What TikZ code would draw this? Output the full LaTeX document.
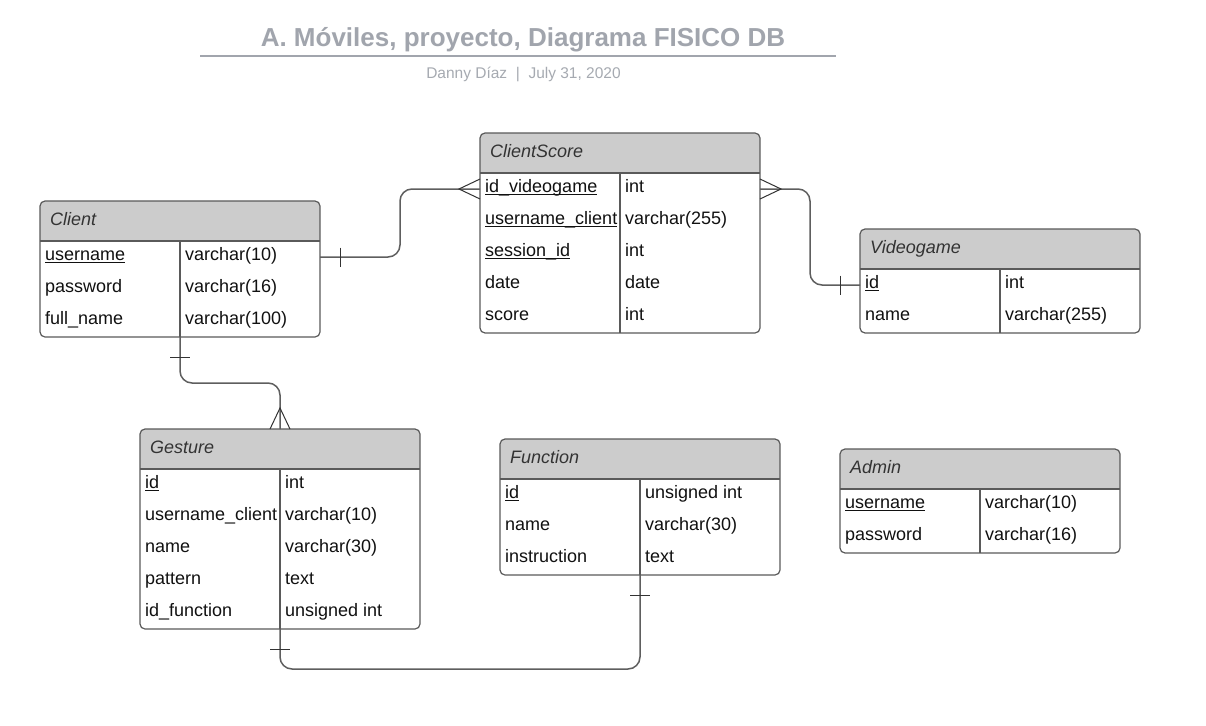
\documentclass[tikz,border=0pt]{standalone}
\usepackage{fontspec}
\setmainfont{Liberation Sans}
\usetikzlibrary{calc}
\definecolor{ttl}{HTML}{A1A5AD}
\definecolor{subc}{HTML}{A6AAB1}
\definecolor{hdrc}{HTML}{CCCCCC}
\definecolor{borderc}{HTML}{5A5A5A}
\definecolor{connc}{HTML}{5E5E5E}
\definecolor{tickc}{HTML}{333333}
\definecolor{hdrtxt}{HTML}{333333}
\definecolor{rowtxt}{HTML}{111111}
\newcommand\undl[1]{\setbox0\hbox{#1}\rlap{\rule[-2.6pt]{\wd0}{1.1pt}}\box0}
\tikzset{
  tblbox/.style={rectangle, minimum width=280pt, inner sep=0pt, outer sep=0pt, fill=white},
  rowbox/.style={rectangle, minimum width=280pt, minimum height=32pt, inner sep=0pt, outer sep=0pt},
  celltext/.style={anchor=base west, inner sep=0pt, text=rowtxt, font=\fontsize{18}{20}\selectfont},
  hdrtext/.style={anchor=base west, inner sep=0pt, text=hdrtxt, font=\fontsize{18}{20}\selectfont\itshape},
  tblline/.style={draw=borderc, line width=1.2pt},
  conn/.style={draw=connc, line width=1.5pt, rounded corners=12pt},
  tickline/.style={draw=tickc, line width=1pt},
}
% name, x, y (px from top), height, title
\newcommand\ertable[5]{%
  \node[tblbox, minimum height=#4pt, anchor=north west] (#1) at (#2,-#3) {};
  \begin{scope}
    \clip[rounded corners=5pt] (#1.north west) rectangle (#1.south east);
    \fill[hdrc] (#1.north west) rectangle ([yshift=-40pt]#1.north east);
  \end{scope}
  \draw[tblline] ([yshift=-40pt]#1.north west) -- ([yshift=-40pt]#1.north east);
  \draw[tblline] ([xshift=140pt,yshift=-40pt]#1.north west) -- ([xshift=140pt]#1.south west);
  \draw[tblline, rounded corners=5pt] (#1.north west) rectangle (#1.south east);
  \node[hdrtext] (#1-title) at ([xshift=10pt,yshift=-24pt]#1.north west) {#5};
}
% table, index, key, type
\newcommand\errow[4]{%
  \node[rowbox, anchor=north west] (#1-r#2) at ([yshift={-40-32*(#2-1)}]#1.north west) {};
  \node[celltext] (#1-r#2-k) at ([xshift=5pt,yshift=-3.3pt]#1-r#2.west) {#3};
  \node[celltext] (#1-r#2-t) at ([xshift=145pt,yshift=-3.3pt]#1-r#2.west) {#4};
}
\begin{document}
\begin{tikzpicture}[x=1pt,y=1pt]
\fill[white] (0,0) rectangle (1206,-725);
\useasboundingbox (0,0) rectangle (1206,-725);

% title
\node[font=\fontsize{26}{30}\selectfont\bfseries, text=ttl, anchor=base, inner sep=0pt] (title) at (523,-47) {A. Móviles, proyecto, Diagrama FISICO DB};
\coordinate (rule-l) at (200,-56.5);
\coordinate (rule-r) at (836,-56.5);
\draw[ttl, line width=2pt] (rule-l) -- (rule-r);
\node[font=\fontsize{15.5}{18}\selectfont, text=subc, anchor=base, inner sep=0pt] (subtitle) at (523.5,-78) {Danny Díaz\ \ |\ \ July 31, 2020};

% Client
\ertable{client}{40}{201}{136}{Client}
\errow{client}{1}{\undl{username}}{varchar(10)}
\errow{client}{2}{password}{varchar(16)}
\errow{client}{3}{full\_name}{varchar(100)}

% ClientScore
\ertable{cscore}{480}{133}{200}{ClientScore}
\errow{cscore}{1}{\undl{id\_videogame}}{int}
\errow{cscore}{2}{\undl{username\_client}}{varchar(255)}
\errow{cscore}{3}{\undl{session\_id}}{int}
\errow{cscore}{4}{date}{date}
\errow{cscore}{5}{score}{int}

% Videogame
\ertable{vg}{860}{229}{104}{Videogame}
\errow{vg}{1}{\undl{id}}{int}
\errow{vg}{2}{name}{varchar(255)}

% Gesture
\ertable{gesture}{140}{429}{200}{Gesture}
\errow{gesture}{1}{\undl{id}}{int}
\errow{gesture}{2}{username\_client}{varchar(10)}
\errow{gesture}{3}{name}{varchar(30)}
\errow{gesture}{4}{pattern}{text}
\errow{gesture}{5}{id\_function}{unsigned int}

% Function
\ertable{func}{500}{439}{136}{Function}
\errow{func}{1}{\undl{id}}{unsigned int}
\errow{func}{2}{name}{varchar(30)}
\errow{func}{3}{instruction}{text}

% Admin
\ertable{admin}{840}{449}{104}{Admin}
\errow{admin}{1}{\undl{username}}{varchar(10)}
\errow{admin}{2}{password}{varchar(16)}

% Client -> ClientScore
\draw[conn] (client-r1.east) -- ++(80,0) |- (cscore-r1.west);
\draw[tickline] ([xshift=20pt,yshift=9.5pt]client-r1.east) -- ([xshift=20pt,yshift=-9.5pt]client-r1.east);
\draw[tickline] ([yshift=10pt]cscore-r1.west) -- ([xshift=-21pt]cscore-r1.west) -- ([yshift=-10pt]cscore-r1.west);

% ClientScore -> Videogame
\draw[conn] (cscore-r1.east) -- ++(50,0) |- (vg-r1.west);
\draw[tickline] ([yshift=10pt]cscore-r1.east) -- ([xshift=21pt]cscore-r1.east) -- ([yshift=-10pt]cscore-r1.east);
\draw[tickline] ([xshift=-20pt,yshift=9.5pt]vg-r1.west) -- ([xshift=-20pt,yshift=-9.5pt]vg-r1.west);

% Client -> Gesture
\draw[conn] ([xshift=140pt]client.south west) -- ++(0,-46) -| (gesture.north);
\draw[tickline] ([xshift=130pt,yshift=-20pt]client.south west) -- ([xshift=150pt,yshift=-20pt]client.south west);
\draw[tickline] ([xshift=-10pt]gesture.north) -- ([yshift=21pt]gesture.north) -- ([xshift=10pt]gesture.north);

% Gesture -> Function
\draw[conn] ([xshift=140pt]gesture.south west) -- ++(0,-40) -| ([xshift=140pt]func.south west);
\draw[tickline] ([xshift=130pt,yshift=-20pt]gesture.south west) -- ([xshift=150pt,yshift=-20pt]gesture.south west);
\draw[tickline] ([xshift=130pt,yshift=-20pt]func.south west) -- ([xshift=150pt,yshift=-20pt]func.south west);
\end{tikzpicture}
\end{document}
